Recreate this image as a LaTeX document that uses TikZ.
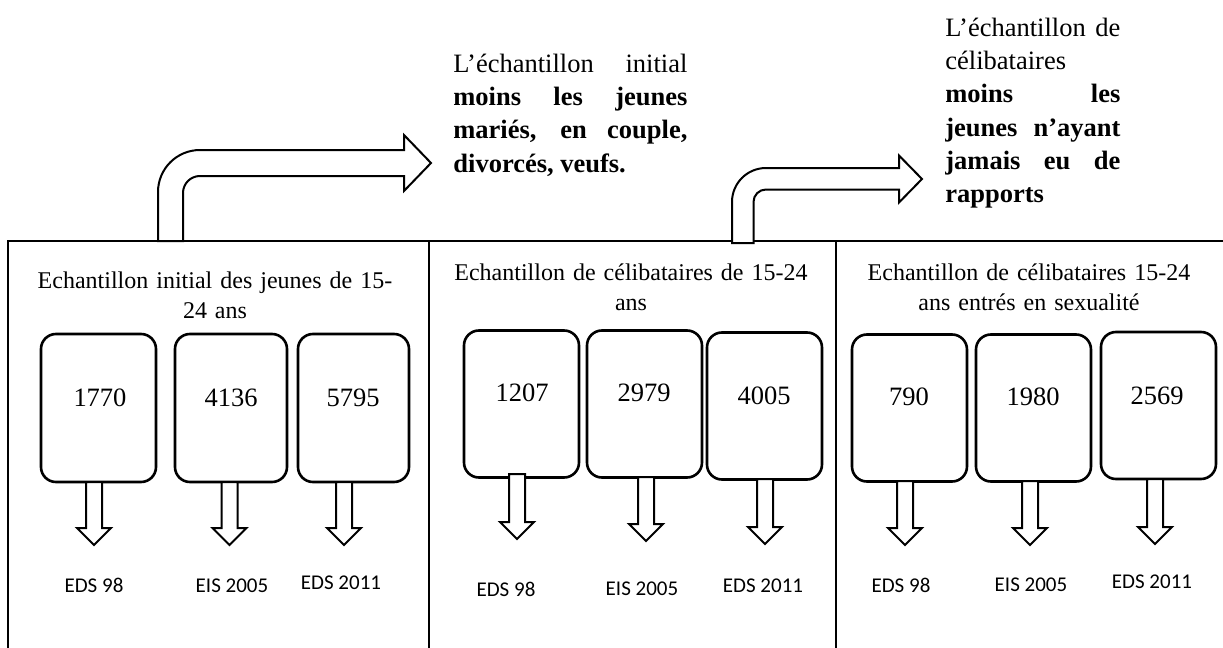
\documentclass[tikz,border=0pt]{standalone}
\usepackage{fontspec}
\setmainfont{Liberation Serif}
\newfontfamily\srcfont{Carlito}
\usepackage{tikz}

\tikzset{
    frameline/.style={draw=black, line width=1pt},
    titletxt/.style={anchor=base, inner sep=0pt, text width=200pt, align=center,
        font=\fontsize{12}{15}\selectfont},
    notetxt/.style={anchor=base west, inner sep=0pt, align=justify,
        font=\fontsize{13.25}{16.7}\selectfont},
    sbox/.style={draw=black, line width=1.3pt, rounded corners=7.5pt, inner sep=0pt,
        minimum width=57.5pt, minimum height=73.5pt},
    numtxt/.style={inner sep=0pt, font=\fontsize{13.25}{16}\selectfont},
    srclabel/.style={inner sep=0pt, font=\srcfont\fontsize{10.5}{12}\selectfont},
    blockar/.style={draw=black, fill=white, line width=1pt, line join=miter},
}

\begin{document}
\begin{tikzpicture}[x=0.5pt,y=-0.5pt]
    \useasboundingbox (0,0) rectangle (1223,648);

    % the three frames (open at the bottom and on the right)
    \draw[frameline] (8,648) -- (8,241) -- (1223,241);
    \draw[frameline] (429,241) -- (429,648);
    \draw[frameline] (836,241) -- (836,648);

    % bent arrows towards the notes
    \draw[blockar] (158,241) -- (158,192) .. controls (158,168.8) and (176.8,150) .. (200,150)
        -- (404,150) -- (404,135) -- (431,163) -- (404,191) -- (404,176) -- (200,176)
        .. controls (190.6,176) and (183,183.6) .. (183,193) -- (183,241) -- cycle;
    \draw[blockar] (732,243) -- (732,202) .. controls (732,183.2) and (747.2,168) .. (766,168)
        -- (899,168) -- (899,155.5) -- (922,179) -- (899,202.5) -- (899,189.5) -- (766,189.5)
        .. controls (759.1,189.5) and (753.5,195.1) .. (753.5,202) -- (753.5,243) -- cycle;

    \node[notetxt, text width=117pt] (note1) at (453,72)
        {L’échantillon initial\linebreak \textbf{moins les jeunes\linebreak mariés, en couple,\linebreak divorcés, veufs.}};
    \node[notetxt, text width=87.5pt] (note2) at (945,36)
        {L’échantillon de\linebreak célibataires\\ \textbf{moins les\linebreak jeunes n’ayant\linebreak jamais eu de\linebreak rapports}};

    % titles
    \node[titletxt] (title1) at (215,288) {Echantillon initial des jeunes de 15-\\24 ans};
    \node[titletxt] (title2) at (631,280) {Echantillon de célibataires de 15-24\\ans};
    \node[titletxt] (title3) at (1029,280) {Echantillon de célibataires 15-24\\ans entrés en sexualité};

    % rounded boxes
    \node[sbox, minimum height=74pt] (boxA) at (98.5,408) {};
    \node[sbox, minimum width=56pt, minimum height=74pt] (boxB) at (231,408) {};
    \node[sbox, minimum width=55.5pt, minimum height=74pt] (boxC) at (353.5,408) {};
    \node[sbox] (boxD) at (521.5,404) {};
    \node[sbox] (boxE) at (644.5,404) {};
    \node[sbox] (boxF) at (764.5,406) {};
    \node[sbox] (boxG) at (909.5,408) {};
    \node[sbox] (boxH) at (1033.5,408) {};
    \node[sbox] (boxI) at (1158.5,405.5) {};

    \node[numtxt] (numA) at (100,398) {1770};
    \node[numtxt] (numB) at (231,398) {4136};
    \node[numtxt] (numC) at (353,398) {5795};
    \node[numtxt] (numD) at (522,393) {1207};
    \node[numtxt] (numE) at (644,393) {2979};
    \node[numtxt] (numF) at (764,396) {4005};
    \node[numtxt] (numG) at (909,397) {790};
    \node[numtxt] (numH) at (1033,397) {1980};
    \node[numtxt] (numI) at (1157,396) {2569};

    % down arrows: x, top of shaft, base of head
    \foreach \ax/\at/\ab in {94/482/528, 229.5/482/528, 344/482/528,
                             517/474/522, 646/477/524, 765/479/527,
                             905/481/528, 1030/481/528, 1155/479/527}{
        \draw[blockar] (\ax-8,\at) -- (\ax-8,\ab) -- (\ax-17,\ab) -- (\ax,\ab+17)
            -- (\ax+17,\ab) -- (\ax+8,\ab) -- (\ax+8,\at) -- cycle;
    }

    % sources
    \node[srclabel] (srcA) at (94,585) {EDS 98};
    \node[srclabel] (srcB) at (232,586) {EIS 2005};
    \node[srclabel] (srcC) at (341,583) {EDS 2011};
    \node[srclabel] (srcD) at (506,589) {EDS 98};
    \node[srclabel] (srcE) at (642,589) {EIS 2005};
    \node[srclabel] (srcF) at (763,586) {EDS 2011};
    \node[srclabel] (srcG) at (901,585) {EDS 98};
    \node[srclabel] (srcH) at (1031,585) {EIS 2005};
    \node[srclabel] (srcI) at (1152,582) {EDS 2011};
\end{tikzpicture}
\end{document}
